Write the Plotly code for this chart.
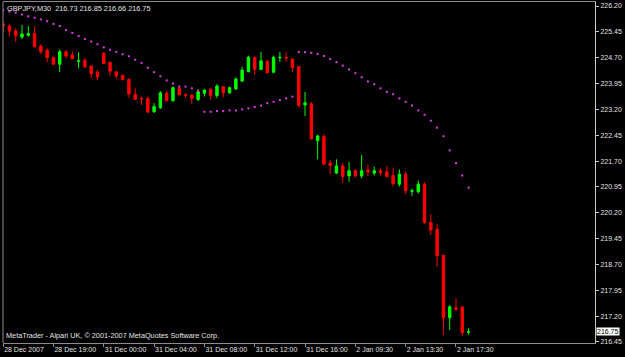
import plotly.graph_objects as go

# ---- data ----
bar_open = [225.68, 225.62, 225.48, 225.30, 225.35, 225.40, 225.04, 224.92, 224.71, 224.51,
            224.87, 224.78, 224.59, 224.63, 224.46, 224.28, 224.83, 224.57, 224.29, 224.19,
            224.07, 223.64, 223.52, 223.52, 223.13, 223.25, 223.67, 223.45, 223.81, 223.62,
            223.62, 223.49, 223.67, 223.78, 223.60, 223.86, 223.68, 223.79, 224.02, 224.29,
            224.71, 224.36, 224.60, 224.28, 224.70, 224.71, 224.66, 224.44, 223.33, 223.36,
            222.29, 222.41, 221.64, 221.35, 221.56, 221.27, 221.42, 221.27, 221.44, 221.35,
            221.42, 221.39, 221.28, 221.03, 221.32, 220.82, 220.81, 221.03, 219.92, 219.72,
            218.97, 217.15, 217.44, 217.46, 216.73]
bar_high = [225.74, 225.67, 225.55, 225.65, 225.62, 225.62, 225.09, 224.97, 224.73, 224.94,
            224.92, 224.89, 224.86, 224.68, 224.46, 224.34, 224.86, 224.57, 224.31, 224.20,
            224.10, 223.81, 223.57, 223.57, 223.38, 223.73, 223.73, 223.86, 223.88, 223.68,
            223.62, 223.78, 223.78, 223.83, 223.93, 223.88, 223.86, 224.13, 224.44, 224.76,
            224.73, 224.87, 224.63, 224.76, 224.87, 224.86, 224.68, 224.46, 223.71, 223.42,
            222.46, 222.48, 221.73, 221.75, 221.65, 221.68, 221.47, 221.88, 221.61, 221.54,
            221.49, 221.56, 221.51, 221.46, 221.39, 220.90, 221.14, 221.08, 220.16, 219.87,
            218.97, 217.52, 217.72, 217.50, 216.85]
bar_low = [225.45, 225.31, 225.16, 225.24, 225.31, 225.00, 224.80, 224.57, 224.49, 224.28,
           224.68, 224.66, 224.39, 224.39, 224.10, 224.05, 224.51, 224.18, 224.10, 224.05,
           223.54, 223.47, 223.33, 223.11, 223.10, 223.21, 223.44, 223.42, 223.62, 223.54,
           223.36, 223.44, 223.57, 223.47, 223.52, 223.55, 223.65, 223.77, 224.00, 224.28,
           224.20, 224.34, 224.25, 224.25, 224.58, 224.58, 224.28, 223.25, 223.01, 222.34,
           221.75, 221.59, 221.32, 221.32, 221.07, 221.10, 221.22, 221.20, 221.27, 221.28,
           221.28, 221.25, 220.96, 220.96, 220.74, 220.69, 220.76, 219.87, 219.55, 218.62,
           216.65, 216.80, 217.35, 216.63, 216.66]
bar_close = [225.62, 225.47, 225.34, 225.39, 225.40, 225.02, 224.87, 224.70, 224.51, 224.87,
             224.75, 224.67, 224.61, 224.44, 224.23, 224.14, 224.53, 224.31, 224.17, 224.06,
             223.65, 223.49, 223.50, 223.12, 223.28, 223.68, 223.45, 223.83, 223.62, 223.61,
             223.52, 223.71, 223.76, 223.60, 223.88, 223.68, 223.83, 224.08, 224.34, 224.71,
             224.36, 224.61, 224.26, 224.71, 224.71, 224.69, 224.41, 223.31, 223.39, 222.34,
             222.43, 221.61, 221.57, 221.56, 221.25, 221.42, 221.27, 221.42, 221.39, 221.42,
             221.36, 221.25, 221.05, 221.32, 220.84, 220.84, 221.03, 219.92, 219.70, 218.95,
             217.15, 217.47, 217.40, 216.72, 216.75]
sar = [226.08, 226.04, 226.01, 225.95, 225.90, 225.86, 225.81, 225.76, 225.68, 225.62,
       225.50, 225.42, 225.33, 225.24, 225.17, 225.09, 225.00, 224.93, 224.87, 224.80,
       224.74, 224.64, 224.55, 224.41, 224.28, 224.16, 224.04, 223.95, 223.86, 223.86,
       223.81, 223.74, 223.13, 223.13, 223.15, 223.15, 223.17, 223.17, 223.20, 223.23,
       223.27, 223.31, 223.38, 223.42, 223.47, 223.52, 223.57, 224.86, 224.86, 224.84,
       224.81, 224.75, 224.66, 224.57, 224.47, 224.36, 224.25, 224.13, 224.01, 223.93,
       223.81, 223.71, 223.64, 223.52, 223.42, 223.31, 223.17, 223.04, 222.87, 222.67,
       222.42, 222.01, 221.64, 221.28, 220.93]

time_tick_bars = [0, 8, 16, 24, 32, 40, 48, 56, 64, 72]
time_tick_labels = ["28 Dec 2007", "28 Dec 19:00", "31 Dec 00:00", "31 Dec 04:00",
                    "31 Dec 08:00", "31 Dec 12:00", "31 Dec 16:00", "2 Jan 09:30",
                    "2 Jan 13:30", "2 Jan 17:30"]
price_ticks = [226.20, 225.45, 224.70, 223.95, 223.20, 222.45, 221.70, 220.95,
               220.20, 219.45, 218.70, 217.95, 217.20, 216.45]
symbol_text = "GBPJPY,M30  216.73 216.85 216.66 216.75"
copyright_text = "MetaTrader - Alpari UK, \u00a9 2001-2007 MetaQuotes Software Corp."
last_price = 216.75

bars = list(range(len(bar_open)))

FONT = "Liberation Sans, Arial, sans-serif"
TXT = "#e2e2e2"

fig = go.Figure()
fig.add_trace(go.Candlestick(
    x=bars, open=bar_open, high=bar_high, low=bar_low, close=bar_close,
    increasing=dict(line=dict(color="#00ff00", width=1), fillcolor="#00ff00"),
    decreasing=dict(line=dict(color="#ff0000", width=1), fillcolor="#ff0000"),
    whiskerwidth=0, hoverinfo="skip", showlegend=False,
))
fig.add_trace(go.Scatter(
    x=bars, y=sar, mode="markers",
    marker=dict(symbol="square", size=2, color="#e03ce6", line=dict(width=0)),
    hoverinfo="skip", showlegend=False,
))

fig.update_layout(
    width=625, height=357,
    margin=dict(l=3, r=30, t=2, b=14, autoexpand=False),
    paper_bgcolor="#000000", plot_bgcolor="#000000",
    boxgap=0.45,
    showlegend=False,
    font=dict(family=FONT, size=7, color=TXT),
    xaxis=dict(
        range=[-0.02, 94.1], rangeslider=dict(visible=False),
        showgrid=False, zeroline=False, automargin=False,
        showline=True, linecolor="#8c8c8c", linewidth=1, mirror=True,
        tickmode="array", tickvals=time_tick_bars, ticktext=time_tick_labels,
        ticks="outside", ticklen=3, tickcolor="#8c8c8c", tickangle=0,
        ticklabelposition="outside right",
        tickfont=dict(family=FONT, size=7, color=TXT),
    ),
    yaxis=dict(
        side="right", range=[216.42, 226.316],
        showgrid=False, zeroline=False, automargin=False,
        showline=True, linecolor="#c8c8c8", linewidth=1,
        tickmode="array", tickvals=price_ticks,
        ticktext=["%.2f" % v for v in price_ticks],
        ticks="outside", ticklen=3, tickcolor="#c8c8c8",
        tickfont=dict(family=FONT, size=7, color=TXT),
    ),
    shapes=[dict(type="line", xref="paper", yref="paper", x0=0, x1=0, y0=0, y1=1,
                 line=dict(color="#8c8c8c", width=1))],
    annotations=[
        dict(text=symbol_text, xref="paper", yref="paper", x=0, y=1,
             xanchor="left", yanchor="top", xshift=2, yshift=0, showarrow=False,
             font=dict(family=FONT, size=7.3, color=TXT)),
        dict(text=copyright_text, xref="paper", yref="paper", x=0, y=0,
             xanchor="left", yanchor="bottom", xshift=1, yshift=1, showarrow=False,
             font=dict(family=FONT, size=7.3, color=TXT)),
        dict(text="%.2f" % last_price, xref="paper", yref="y", x=1, y=last_price,
             xanchor="left", yanchor="middle", xshift=1, showarrow=False,
             bgcolor="#ffffff", borderpad=0,
             font=dict(family=FONT, size=7, color="#000000")),
    ],
)

fig.write_html("out.html")
